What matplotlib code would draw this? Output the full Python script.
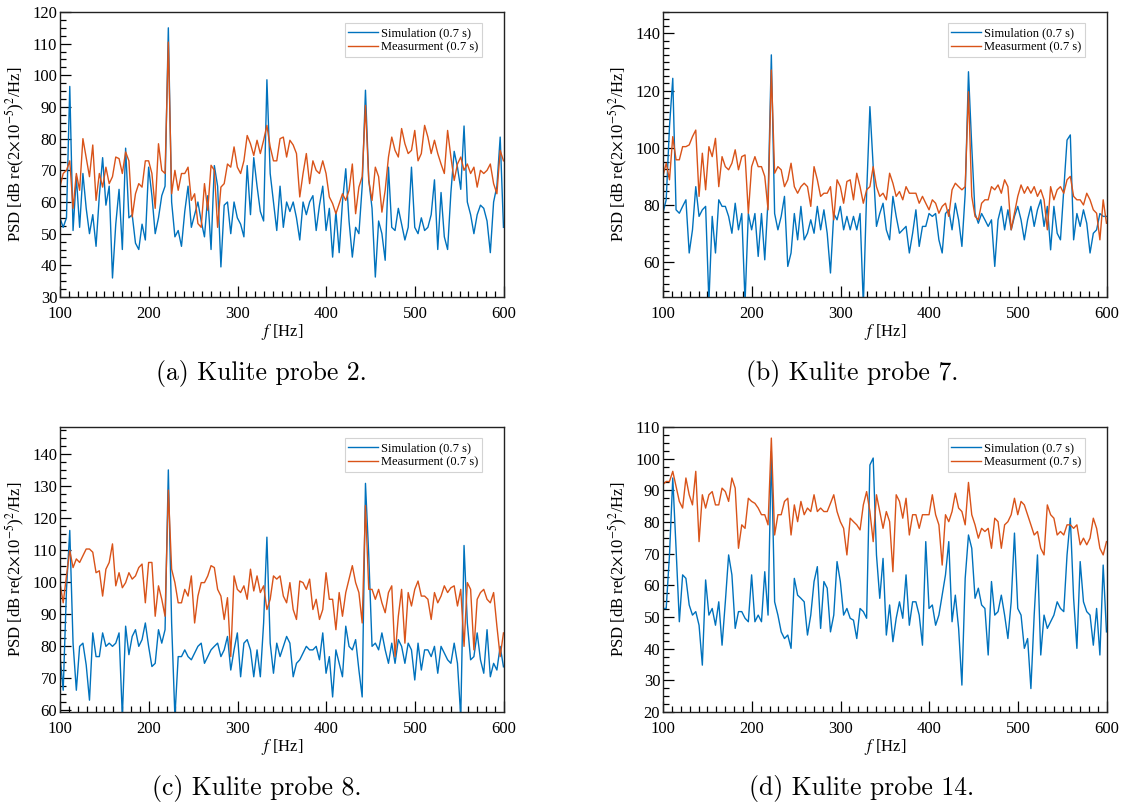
import numpy as np
import matplotlib
matplotlib.use("Agg")
import matplotlib.pyplot as plt
from matplotlib.ticker import MultipleLocator

plt.rcParams['font.family'] = ['Liberation Serif', 'DejaVu Serif']
plt.rcParams['mathtext.fontset'] = 'stix'

# frequency bins (Hz)
freq = np.arange(27, 163) * 3.7

sim_a = [55, 52, 55, 96.5, 51, 68, 52, 69, 58, 50,
         56, 46, 62, 74, 59, 65, 36, 53, 64, 45,
         77, 55, 56, 47, 45, 53, 48, 71, 62, 50,
         55, 62, 65, 115, 60, 49, 51, 46, 57, 65,
         52, 56, 60, 54, 49, 62, 45, 71.5, 65, 39.5,
         59, 60, 50, 60, 55, 53, 49, 71.5, 56, 74,
         65, 57, 54, 98.6, 69, 60, 51, 65, 52, 60,
         57, 60, 55, 48, 60, 56, 60, 62, 51, 59,
         65, 51, 58, 42.6, 57, 44, 60, 70.5, 54, 42.6,
         52, 50, 65, 95.3, 67, 58, 36.3, 54, 50, 41.6,
         71, 52, 51, 58, 53, 48, 52, 71, 52, 50,
         55, 51, 52, 56, 67, 45, 63, 49, 45, 63,
         76, 71, 64, 84, 60, 56, 50, 56, 59, 58,
         54, 44, 60, 65, 80.5, 52]
meas_a = [64.7, 69, 70, 73, 58, 69, 63.7, 80, 74, 68,
          78, 60.5, 69, 64.7, 71, 65.8, 68, 74.2, 73.7, 69,
          75.8, 73, 55.3, 62.6, 65.8, 64.7, 73, 73, 69, 58,
          78.4, 70, 69, 110.5, 62.6, 70, 63.7, 69, 69, 71,
          60.5, 62.6, 53.2, 52, 65.8, 57.4, 71.6, 70, 52, 64.7,
          65.8, 72, 71, 77.4, 71, 69, 73, 81, 78.4, 74.7,
          79.5, 75.3, 79.5, 84.2, 77.4, 73, 73, 80, 80.5, 74.2,
          79.5, 78, 75.3, 61.6, 69, 75.3, 65.8, 73, 70, 69,
          73, 69, 61.6, 59.5, 56.3, 59.5, 62.6, 60.5, 63.7, 72,
          56.3, 64.7, 68, 90.5, 66.8, 60.5, 71, 68, 56.8, 63.7,
          74.2, 80.5, 76.3, 74.2, 83.2, 78.4, 75.3, 76.3, 82.6, 73,
          75.3, 84.2, 80.5, 75.3, 79.5, 75.3, 72, 69, 82.6, 74.2,
          66.8, 72, 74.2, 70, 72, 69, 71, 64.7, 70, 69,
          70, 72, 65.8, 62.6, 76.3, 73]

sim_b = [77.1, 81.8, 107.4, 124.3, 78.3, 77.1, 79.5, 81.8, 63.2, 71.3,
         86.4, 76, 78.3, 79.5, 46, 76, 63.2, 81.8, 79.5, 79.5,
         76, 70.1, 80.6, 71.3, 77, 46, 77, 71.3, 77, 62,
         77, 60.8, 81.8, 132.5, 77, 71.3, 76, 83, 58.5, 63.2,
         77, 67.8, 79.5, 67.8, 70.1, 74.8, 70.1, 79.5, 71.3, 78.3,
         70.1, 56.2, 77, 74.8, 79.5, 71.3, 76, 71.3, 76, 71.3,
         77, 45, 84, 114.4, 93.4, 72.5, 77, 80.6, 71.3, 67.8,
         83, 76, 70.1, 71.3, 72.5, 63.2, 70.1, 78.3, 65.5, 72.5,
         72.5, 77, 76, 77, 67.8, 63.2, 77, 78.3, 71.3, 80.6,
         74.8, 65.5, 84, 126.6, 100.4, 77, 73.6, 77, 74.8, 72.5,
         74.8, 58.5, 74.8, 79.5, 71.3, 78.3, 71.3, 76, 79.5, 74.8,
         67.8, 74.8, 79.5, 72.5, 78.3, 81.8, 72.5, 79.5, 64.3, 79.5,
         70.1, 67.8, 85.2, 102.7, 104.5, 67.8, 77, 72.5, 78.3, 73.6,
         63.2, 70.1, 71.3, 77, 76, 76]
meas_b = [90, 94.6, 88.8, 103.9, 95.8, 95.8, 100.4, 100.4, 101, 103.9,
          106.2, 83, 98.1, 85.3, 100.4, 96.9, 103.3, 86.4, 96.9, 93.4,
          92.3, 94.6, 99.3, 92.3, 96.9, 97.5, 77.1, 93.4, 96.9, 93.4,
          93.4, 90, 78.3, 127.2, 91.1, 93.4, 92.3, 86.4, 88.8, 94.6,
          86.4, 84.1, 86.4, 87.6, 86.4, 79.5, 93.4, 88.8, 83, 84.1,
          84.1, 86.4, 74.8, 88.8, 86.4, 80.6, 88.2, 88.8, 81.8, 91.1,
          86.4, 80.6, 85.3, 86.4, 93.4, 86.4, 83, 84.1, 81.8, 91.1,
          87.6, 83, 84.7, 81.8, 86.4, 84.1, 84.1, 84.1, 80.6, 83,
          80.6, 78.3, 81.8, 80.6, 77.1, 79.5, 80.6, 76, 85.3, 87.6,
          86.4, 85.3, 86.4, 119.6, 83, 76, 74.8, 80.6, 81.8, 81.8,
          86.4, 85.3, 87, 84.1, 88.8, 86.4, 71.3, 77.1, 83, 87,
          84.1, 86.4, 84.1, 86.4, 83, 85.3, 81.8, 71.3, 86.4, 81.8,
          85.3, 86.4, 84.1, 88.8, 90, 83, 81.8, 81.8, 80, 84.1,
          81.8, 78.3, 77.1, 67.8, 81.8, 73.6]

sim_c = [77.4, 66.3, 97.8, 116.2, 81, 66.3, 80, 81, 74.2, 63.2,
         84.2, 76.8, 76.8, 84.2, 80, 81, 80, 81, 84.2, 58,
         86.3, 77.4, 83.1, 85.2, 80, 82.1, 87.3, 80, 73.7, 74.7,
         85.2, 81, 85.2, 135.1, 87.3, 58, 76.8, 76.8, 78.9, 76.8,
         75.8, 77.9, 80, 81, 74.7, 76.8, 78.9, 80, 81, 76.8,
         78.9, 83.1, 72.6, 78.9, 84.2, 70.5, 81, 82.1, 78.9, 70.5,
         78.9, 70.5, 87.3, 114.1, 81, 71.6, 81, 76.8, 80, 83.1,
         81, 70.5, 74.7, 75.8, 77.9, 80, 78.9, 78.9, 80, 75.8,
         84.2, 71.6, 76.8, 64.2, 78.9, 74.7, 70.5, 86.3, 80, 78.9,
         82.1, 72.6, 64.2, 130.9, 108.3, 80, 81, 78.9, 84.2, 78.9,
         74.7, 81, 74.7, 82.1, 80, 74.7, 81, 78.9, 69.5, 81,
         72.6, 78.9, 78.9, 76.8, 80, 71.6, 80, 77.9, 75.8, 74.7,
         81, 74.7, 58, 111.5, 87.3, 75.8, 76.8, 84.2, 75.8, 71.6,
         85.2, 70.5, 74.7, 72.6, 80, 73.6]
meas_c = [99.9, 93.6, 102, 109.9, 104.6, 107.3, 106.2, 108.3, 110.4, 110.4,
          109.4, 103, 103.6, 95.7, 104.1, 106.2, 112, 98.9, 103, 98.3,
          99.9, 103, 101, 102, 104.6, 105.7, 93.6, 106.2, 106.2, 89.4,
          98.9, 94.7, 89.4, 128.8, 104.1, 99.9, 93.6, 93.6, 97.8, 95.7,
          102, 87.3, 95.7, 99.9, 99.9, 102, 105.2, 104.6, 97.8, 95.7,
          88.4, 95.2, 76.8, 102, 97.8, 96.8, 98.9, 94.7, 104.1, 97.3,
          102, 96.8, 98.9, 91.5, 94.7, 102, 101, 102, 95.7, 93.6,
          99.9, 91.5, 88.4, 100.4, 99.9, 97.8, 101, 91.5, 94.7, 88.4,
          91.5, 103, 94.7, 94.7, 85.2, 96.8, 89.4, 96.8, 101, 105.2,
          99.9, 96.8, 87.3, 124, 97.8, 97.8, 94.7, 97.8, 93.6, 90.5,
          96.8, 98.9, 76.8, 89.4, 97.8, 81, 96.8, 92.6, 97.8, 100.4,
          95.7, 95.7, 94.7, 88.4, 96.8, 93.6, 95.7, 98.9, 96.8, 98.3,
          98.9, 92.6, 97.8, 80, 99.9, 97.8, 78.9, 94.7, 96.8, 97.8,
          94.7, 93.6, 96.8, 86.3, 76.8, 84.2]

sim_d = [52.7, 52.7, 69.6, 93.9, 71.7, 48.5, 63.3, 62.2, 53.8, 50.6,
         51.7, 47.4, 34.8, 61.7, 50.6, 52.7, 47.4, 54.8, 41.1, 54.8,
         69.6, 63.3, 46.4, 51.7, 51.7, 49.6, 48.5, 63.3, 48.5, 50.6,
         48.5, 64.3, 50.6, 102.3, 54.8, 50.6, 45.3, 43.2, 44.3, 40.1,
         62.2, 56.9, 55.9, 54.8, 44.3, 50.6, 61.2, 65.9, 46.4, 61.2,
         59.1, 45.3, 50.6, 67.5, 61.2, 50.6, 52.7, 49.6, 49, 43.2,
         52.7, 51.7, 49.6, 98, 100.2, 69.6, 55.9, 68.5, 44.3, 53.8,
         42.2, 49.6, 54.8, 49.6, 63.3, 47.4, 54.8, 54.8, 50.6, 41.1,
         73.8, 52.7, 53.8, 47.4, 50.6, 56.9, 63.3, 73.8, 48.5, 56.9,
         46.4, 28.5, 62.2, 75.9, 71.7, 55.9, 59.1, 53.8, 52.7, 38,
         61.2, 50.6, 51.7, 56.9, 50.6, 43.2, 54.8, 76.5, 52.7, 50.6,
         40.1, 43.2, 27.4, 50.6, 69.6, 38, 50.6, 46.4, 48.5, 50.6,
         54.8, 52.7, 51.7, 69.6, 81.2, 55.9, 40.1, 67.5, 54.8, 51.7,
         50.6, 41.1, 52.7, 38, 66.4, 45.3]
meas_d = [91.8, 92.8, 92.8, 96, 91.2, 86.5, 84.4, 93.9, 88.6, 85.4,
          96, 73.8, 88.6, 84.4, 88.6, 89.6, 85.4, 85.4, 90.7, 89.6,
          86.5, 93.9, 90.7, 71.7, 79.1, 78, 87.5, 86.5, 85.9, 84.4,
          82.3, 82.3, 79.1, 106.5, 75.9, 82.3, 82.3, 86.5, 87.5, 75.9,
          85.4, 80.1, 86.5, 82.3, 84.4, 83.3, 88.6, 83.3, 84.4, 83.3,
          83.3, 85.9, 88.6, 83.3, 80.1, 78, 69.6, 81.2, 80.1, 79.1,
          77.5, 85.4, 89.6, 83.3, 73.8, 88.6, 83.3, 78, 83.3, 80.1,
          64.3, 88.6, 86.5, 81.2, 87.5, 75.9, 82.3, 82.3, 78, 82.3,
          82.3, 82.3, 88.6, 82.3, 79.1, 66.4, 82.3, 80.1, 83.3, 89.1,
          84.4, 83.3, 79.1, 92.5, 82.3, 79.1, 74.9, 78, 77, 78,
          71.7, 81.2, 80.1, 71.7, 79.1, 80.1, 82.3, 87.5, 82.3, 86.5,
          85.4, 82.3, 79.1, 75.9, 77, 71.7, 69.6, 85.4, 82.3, 81.2,
          75.9, 77, 75.9, 79.1, 79.1, 78, 79.1, 72.8, 74.9, 72.8,
          74.9, 81.2, 78, 71.7, 69.6, 73.8]

captions = ["(a) Kulite probe 2.", "(b) Kulite probe 7.",
            "(c) Kulite probe 8.", "(d) Kulite probe 14."]
ylims = [(30, 120), (47.8, 147.5), (59.5, 148.5), (20, 110)]
ymajor = [10, 20, 10, 10]
series = [(sim_a, meas_a), (sim_b, meas_b), (sim_c, meas_c), (sim_d, meas_d)]
labels = ["Simulation (0.7 s)", "Measurment (0.7 s)"]

BLUE = "#0072BD"
ORANGE = "#D95319"

W, H = 1123, 808
fig = plt.figure(figsize=(W / 100, H / 100), dpi=100)

# axes boxes in pixels: left, top, right, bottom
boxes = [(60, 12, 504, 297), (663, 12, 1107, 297),
         (60, 427, 504, 712), (663, 427, 1107, 712)]
cap_pos = [(261, 373), (852, 373), (257, 789), (862, 789)]

for i, (l, t, r, b) in enumerate(boxes):
    ax = fig.add_axes([l / W, 1 - b / H, (r - l) / W, (b - t) / H])
    sim, meas = series[i]
    ax.plot(freq, sim, color=BLUE, lw=1.0, label=labels[0])
    ax.plot(freq, meas, color=ORANGE, lw=1.0, label=labels[1])
    ax.set_xlim(100, 600)
    ax.set_ylim(*ylims[i])
    ax.xaxis.set_major_locator(MultipleLocator(100))
    ax.xaxis.set_minor_locator(MultipleLocator(10))
    ax.yaxis.set_major_locator(MultipleLocator(ymajor[i]))
    ax.yaxis.set_minor_locator(MultipleLocator(2.5))
    ax.tick_params(which='both', direction='in', top=False, right=False,
                   labelsize=12, width=0.9, colors='black')
    ax.tick_params(which='major', length=8)
    ax.tick_params(which='minor', length=4)
    ax.tick_params(axis='y', which='major', pad=2)
    ax.tick_params(axis='x', which='major', pad=6.5)
    for s in ax.spines.values():
        s.set_linewidth(1.0)
        s.set_color('#222222')
    ax.set_xlabel('$f$ [Hz]', fontsize=12, labelpad=0)
    ax.set_ylabel('PSD [dB re(2$\\times$10$^{-5}$)$^{2}$/Hz]', fontsize=12, labelpad=4)
    leg = ax.legend(loc='upper right', bbox_to_anchor=(0.95, 0.96),
                    borderaxespad=0, fontsize=9, frameon=True, fancybox=False,
                    handlelength=2.4, handletextpad=0.2, labelspacing=0.15,
                    borderpad=0.3)
    leg.get_frame().set_edgecolor('#c8c8c8')
    leg.get_frame().set_linewidth(0.8)
    cx, cy = cap_pos[i]
    fig.text(cx / W, 1 - cy / H, captions[i], ha='center', va='center',
             fontsize=18.5, family='cmr10')

fig.savefig("out.png", dpi=100)
